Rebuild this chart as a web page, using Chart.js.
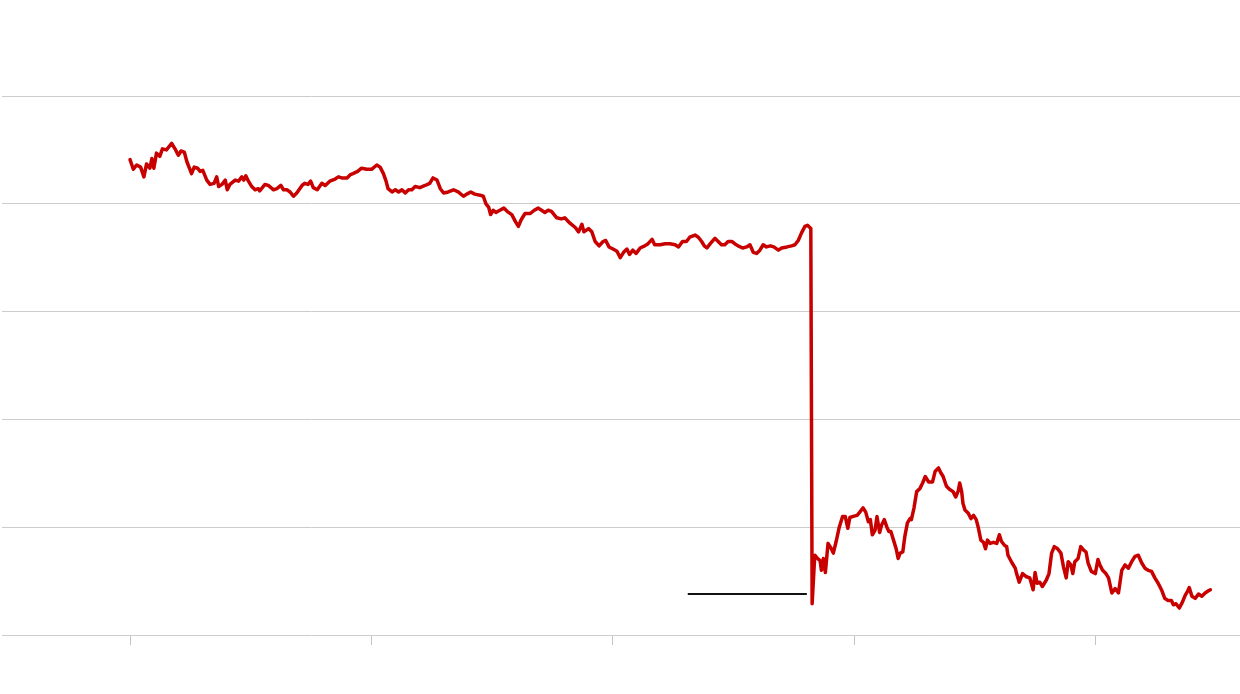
<!DOCTYPE html>
<html>
<head>
<meta charset="utf-8">
<script src="https://cdn.jsdelivr.net/npm/chart.js@4"></script>
<style>
html,body{margin:0;padding:0;background:#fff;}
#wrap{width:1240px;height:694px;}
</style>
</head>
<body>
<div id="wrap"><canvas id="c" width="1240" height="694"></canvas></div>
<script>
// Days since start of the first tick period
const days = [0,5,10,16,21,25,30,33,36,40,45,49,55,63,68,73,77,82,86,93,97,102,106,110,116,121,127,131,134,139,144,147,151,159,164,169,172,175,179,184,189,194,196,204,209,217,222,228,232,237,242,247,252,260,264,269,273,277,283,290,295,302,310,315,320,328,333,337,344,350,358,365,373,378,383,387,390,396,401,406,411,416,421,426,431,438,
446,453,458,464,469,474,481,489,496,504,509,515,521,529,534,538,542,545,549,553,559,565,570,577,583,587,591,597,605,611,617,622,627,632,637,645,652,657,665,673,678,683,686,693,698,703,709,715,719,724,730,736,741,746,751,755,760,765,771,778,783,789,793,801,809,816,824,829,835,841,846,854,859,864,868,872,877,884,889,894,899,904,910,914,919,926,932,937,942,947,952,957,962,968,973,980,985,993,1000,1005,1010,1015,1020,1024,1029,
1031,
1035,1039,1043,1045,1048,1051,1055,1060,1063,1067,1072,1077,1081,1085,1088,1093,1099,1103,1108,1112,1116,1119,1122,1126,1129,1133,1136,1140,1144,1147,1150,1154,1158,1161,1164,1168,1171,1175,1179,1181,1185,1189,1194,1198,1202,1207,1213,1217,1222,1225,1229,1234,1239,1244,1248,1252,1254,1257,1259,1262,1267,1271,1275,1279,1282,1286,1290,1293,1296,1300,1305,1310,1314,1317,1322,1325,1327,1333,1338,1340,1344,1349,1355,1360,1365,1368,1371,1375,1379,1385,1389,1393,1397,1402,1407,1411,1415,1418,1422,1425,1428,1433,1437,1441,1445,1448,1453,1459,1463,1466,1470,1475,1479,1484,1489,1494,1499,1504,1509,1514,1519,1524,1529,1534,1539,1544,1549,1554,1559,1564,1569,1574,1577,1581,1586,1591,1595,1598,1601,1605,1610,1615,1620,1625,1630,1633];

const values = [44.1,43.2,43.6,43.4,42.5,43.7,43.3,44.2,43.3,44.7,44.4,45.1,45.0,45.6,45.1,44.5,44.9,44.8,43.9,42.8,43.4,43.3,43.0,43.1,42.2,41.8,41.9,42.5,41.6,41.8,42.2,41.3,41.8,42.2,42.1,42.5,42.2,42.6,42.1,41.6,41.3,41.4,41.2,41.8,41.7,41.3,41.4,41.7,41.3,41.3,41.1,40.7,41.0,41.7,41.9,41.8,42.1,41.5,41.3,41.9,41.7,42.1,42.3,42.5,42.4,42.4,42.7,42.8,43.0,43.3,43.2,43.2,43.6,43.4,42.8,42.1,41.4,41.1,41.3,41.1,41.3,41.0,41.3,41.3,41.6,41.5,
41.7,41.9,42.4,42.2,41.4,41.0,41.1,41.3,41.1,40.7,40.9,41.1,40.9,40.8,40.7,40.0,39.7,39.0,39.4,39.2,39.4,39.6,39.3,39.0,38.3,37.9,38.5,39.1,39.1,39.4,39.6,39.4,39.2,39.4,39.3,38.7,38.6,38.7,38.2,37.8,37.4,38.1,37.4,37.7,37.4,36.5,36.1,36.5,36.6,36.0,35.8,35.6,35.0,35.5,35.8,35.3,35.7,35.4,35.9,36.1,36.3,36.7,36.2,36.2,36.3,36.3,36.2,36.0,36.5,36.5,36.9,37.1,36.9,36.5,36.1,35.9,36.3,36.8,36.5,36.2,36.2,36.5,36.5,36.3,36.1,35.9,36.0,36.2,35.5,35.4,35.7,36.2,36.0,36.1,36.0,35.7,35.9,36.0,36.1,36.2,36.6,37.3,37.9,38.0,37.7,
2.9,
7.4,7.1,6.9,6.0,7.1,5.8,8.5,8.0,7.6,8.6,10.0,11.0,11.0,9.9,10.9,11.0,11.1,11.4,11.8,11.4,10.5,10.7,9.3,9.7,11.0,9.5,10.2,10.7,10.0,9.6,9.6,8.8,8.0,7.1,7.6,7.7,9.1,10.4,10.8,10.7,11.8,13.3,13.6,14.1,14.7,14.2,14.2,15.2,15.5,15.1,14.7,13.8,13.5,13.3,12.8,13.4,14.1,13.3,12.2,11.6,11.3,10.8,11.1,10.7,10.0,8.8,8.6,8.0,8.8,8.5,8.6,8.5,9.3,8.7,8.3,8.2,7.4,6.7,6.2,5.7,4.9,5.7,5.4,5.3,4.2,5.8,4.8,4.9,4.5,5.1,5.7,7.6,8.2,8.0,7.6,6.3,5.3,6.8,6.5,5.7,6.8,7.1,8.2,7.9,7.7,6.7,5.9,5.7,7.0,6.5,6.0,5.7,5.3,3.9,4.3,3.9,6.0,6.5,6.2,6.8,7.3,7.4,6.7,6.2,6.0,5.9,5.3,4.8,4.2,3.4,3.2,3.2,2.8,2.9,2.5,3.1,3.7,4.0,4.4,3.6,3.4,3.8,3.6,3.9,4.1,4.2];

// Reference level segment
const refDays = [843, 1023];
const refValues = [3.8, 3.8];

// Axis ticks
const xTicks = [0, 365, 730, 1095, 1460];
const yTicks = [0, 10, 20, 30, 40, 50];
const xMin = -193.5, xMax = 1677.7;
const yMin = 0, yMax = 50;

const series = days.map((d, i) => ({x: d, y: values[i]}));
const refSeries = refDays.map((d, i) => ({x: d, y: refValues[i]}));

new Chart(document.getElementById('c'), {
  type: 'line',
  data: {
    datasets: [
      {
        data: refSeries,
        borderColor: '#111111',
        borderWidth: 2,
        pointRadius: 0,
        tension: 0,
        order: 2
      },
      {
        data: series,
        borderColor: '#c80000',
        borderWidth: 3.5,
        borderJoinStyle: 'round',
        borderCapStyle: 'round',
        pointRadius: 0,
        tension: 0,
        order: 1
      }
    ]
  },
  options: {
    responsive: false,
    animation: false,
    events: [],
    layout: {padding: {top: 96, left: 2, right: 0, bottom: 49}},
    plugins: {legend: {display: false}, tooltip: {enabled: false}, title: {display: false}},
    scales: {
      x: {
        type: 'linear',
        min: xMin,
        max: xMax,
        afterBuildTicks: (s) => { s.ticks = xTicks.map(v => ({value: v})); },
        ticks: {display: false},
        grid: {drawOnChartArea: false, drawTicks: true, tickLength: 10, color: '#c4c4c4', lineWidth: 1},
        border: {display: false}
      },
      y: {
        min: yMin,
        max: yMax,
        afterBuildTicks: (s) => { s.ticks = yTicks.map(v => ({value: v})); },
        ticks: {display: false},
        grid: {drawTicks: false, color: '#cccccc', lineWidth: 1},
        border: {display: false}
      }
    }
  }
});
</script>
</body>
</html>
